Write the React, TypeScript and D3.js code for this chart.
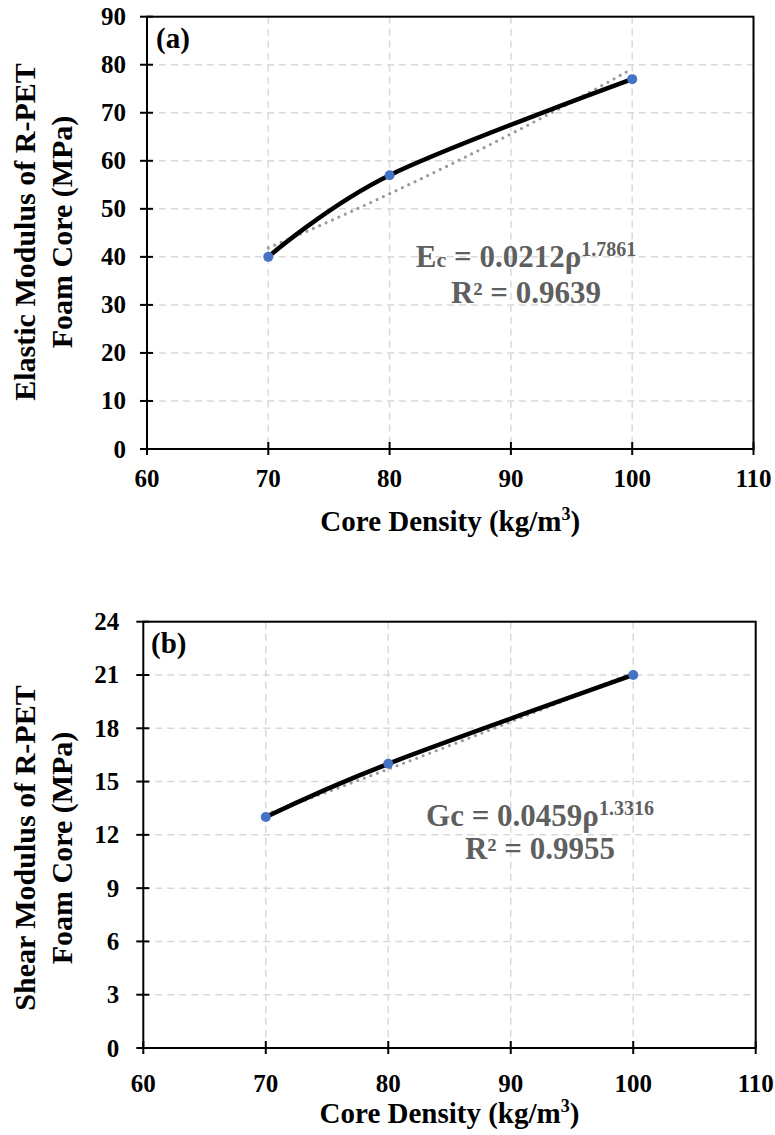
import React from "react";
import * as d3 from "d3";

// ---------- data ----------
const densities = [70, 80, 100];
const elasticModulus = [40, 57, 77];
const shearModulus = [13, 16, 21];
const xTicks = [60, 70, 80, 90, 100, 110];
const yTicksA = [0, 10, 20, 30, 40, 50, 60, 70, 80, 90];
const yTicksB = [0, 3, 6, 9, 12, 15, 18, 21, 24];
// power trendline coefficients y = a * x^b (as printed on chart)
const trendA = { a: 0.0212, b: 1.7861, r2: "0.9639" };
const trendB = { a: 0.0459, b: 1.3316, r2: "0.9955" };

const FONT = "'Liberation Serif', 'Times New Roman', serif";
const GRID = "#d9d9d9";
const EQ_COLOR = "#5f5f5f";

type PanelProps = {
  left: number; right: number; top: number; bottom: number;
  yValues: number[]; yTicks: number[]; trend: { a: number; b: number; r2: string };
  label: string; yTitle1: string; yTitle2: string; titleCenterY: number;
  xLabelY: number; xTitleY: number; yLabelGap: number;
  eq: { x: number; y1: number; y2: number; lead: string; sub: string; subSize: number };
  labelPos: [number, number];
};

function Panel(p: PanelProps) {
  const x = d3.scaleLinear().domain([60, 110]).range([p.left, p.right]);
  const yMax = p.yTicks[p.yTicks.length - 1];
  const y = d3.scaleLinear().domain([0, yMax]).range([p.bottom, p.top]);
  const pts: [number, number][] = densities.map((d, i) => [x(d), y(p.yValues[i])]);
  const line = d3.line().curve(d3.curveCardinal.tension(0))(pts) || "";
  const tx = d3.range(densities[0], densities[densities.length - 1] + 0.01, 1);
  const trendPts: [number, number][] = tx.map((v) => [x(v), y(p.trend.a * Math.pow(v, p.trend.b))]);
  const trendPath = d3.line()(trendPts) || "";
  const cx = (p.left + p.right) / 2;
  return (
    <g>
      {/* gridlines */}
      {p.yTicks.slice(1, -1).map((t) => (
        <line key={"gy" + t} x1={p.left} x2={p.right} y1={y(t)} y2={y(t)} stroke={GRID} strokeWidth={1.5} strokeDasharray="7,5" />
      ))}
      {xTicks.slice(1, -1).map((t) => (
        <line key={"gx" + t} x1={x(t)} x2={x(t)} y1={p.top} y2={p.bottom} stroke={GRID} strokeWidth={1.5} strokeDasharray="7,5" />
      ))}
      {/* frame */}
      <rect x={p.left} y={p.top} width={p.right - p.left} height={p.bottom - p.top} fill="none" stroke="#000" strokeWidth={2} />
      {/* ticks */}
      {p.yTicks.map((t) => (
        <line key={"ty" + t} x1={p.left - 7} x2={p.left + 6} y1={y(t)} y2={y(t)} stroke="#000" strokeWidth={2} />
      ))}
      {xTicks.map((t) => (
        <line key={"tx" + t} x1={x(t)} x2={x(t)} y1={p.bottom - 7} y2={p.bottom + 6} stroke="#000" strokeWidth={2} />
      ))}
      {/* tick labels */}
      {p.yTicks.map((t) => (
        <text key={"ly" + t} x={p.left - p.yLabelGap} y={y(t) + 8.5} textAnchor="end" fontFamily={FONT} fontWeight="bold" fontSize={25} fill="#000">{t}</text>
      ))}
      {xTicks.map((t) => (
        <text key={"lx" + t} x={x(t)} y={p.xLabelY} textAnchor="middle" fontFamily={FONT} fontWeight="bold" fontSize={25} fill="#000">{t}</text>
      ))}
      {/* axis titles */}
      <text x={cx} y={p.xTitleY} textAnchor="middle" fontFamily={FONT} fontWeight="bold" fontSize={29} fill="#000">
        Core Density (kg/m<tspan dy={-11} fontSize={18}>3</tspan><tspan dy={11}>)</tspan>
      </text>
      <text transform={`translate(35,${p.titleCenterY}) rotate(-90)`} textAnchor="middle" fontFamily={FONT} fontWeight="bold" fontSize={30} fill="#000">{p.yTitle1}</text>
      <text transform={`translate(72,${p.titleCenterY}) rotate(-90)`} textAnchor="middle" fontFamily={FONT} fontWeight="bold" fontSize={30} fill="#000">{p.yTitle2}</text>
      {/* panel label */}
      <text x={p.labelPos[0]} y={p.labelPos[1]} fontFamily={FONT} fontWeight="bold" fontSize={29} fill="#000">{p.label}</text>
      {/* trendline */}
      <path d={trendPath} fill="none" stroke="#9a9a9a" strokeWidth={3.2} strokeDasharray="0,7" strokeLinecap="round" />
      {/* data line */}
      <path d={line} fill="none" stroke="#000" strokeWidth={4.5} strokeLinecap="round" />
      {pts.map((pt, i) => (
        <circle key={"c" + i} cx={pt[0]} cy={pt[1]} r={5} fill="#4472c4" />
      ))}
      {/* equation */}
      <text x={p.eq.x} y={p.eq.y1} textAnchor="middle" fontFamily={FONT} fontWeight="bold" fontSize={31} fill={EQ_COLOR}>
        {p.eq.lead}<tspan fontSize={p.eq.subSize}>{p.eq.sub}</tspan>
        <tspan fontSize={31}>{` = ${p.trend.a}ρ`}</tspan>
        <tspan dy={-11} fontSize={20}>{String(p.trend.b)}</tspan>
      </text>
      <text x={p.eq.x} y={p.eq.y2} textAnchor="middle" fontFamily={FONT} fontWeight="bold" fontSize={31} fill={EQ_COLOR}>
        {`R² = ${p.trend.r2}`}
      </text>
    </g>
  );
}

export default function App() {
  return (
    <svg width={775} height={1135} viewBox="0 0 775 1135" style={{ position: "absolute", left: 0, top: 0, background: "#fff" }}>
      <rect width={775} height={1135} fill="#fff" />
      <Panel
        left={147} right={753.5} top={16.7} bottom={449}
        yValues={elasticModulus} yTicks={yTicksA} trend={trendA}
        label="(a)" yTitle1="Elastic Modulus of R-PET" yTitle2="Foam Core (MPa)" titleCenterY={232}
        xLabelY={487} xTitleY={531} yLabelGap={21}
        eq={{ x: 526, y1: 267, y2: 303, lead: "E", sub: "c", subSize: 22 }}
        labelPos={[156, 48]}
      />
      <Panel
        left={143.3} right={755.7} top={621.7} bottom={1048}
        yValues={shearModulus} yTicks={yTicksB} trend={trendB}
        label="(b)" yTitle1="Shear Modulus of R-PET" yTitle2="Foam Core (MPa)" titleCenterY={848}
        xLabelY={1092} xTitleY={1123} yLabelGap={24}
        eq={{ x: 540, y1: 826, y2: 859, lead: "G", sub: "c", subSize: 31 }}
        labelPos={[151, 653]}
      />
    </svg>
  );
}
